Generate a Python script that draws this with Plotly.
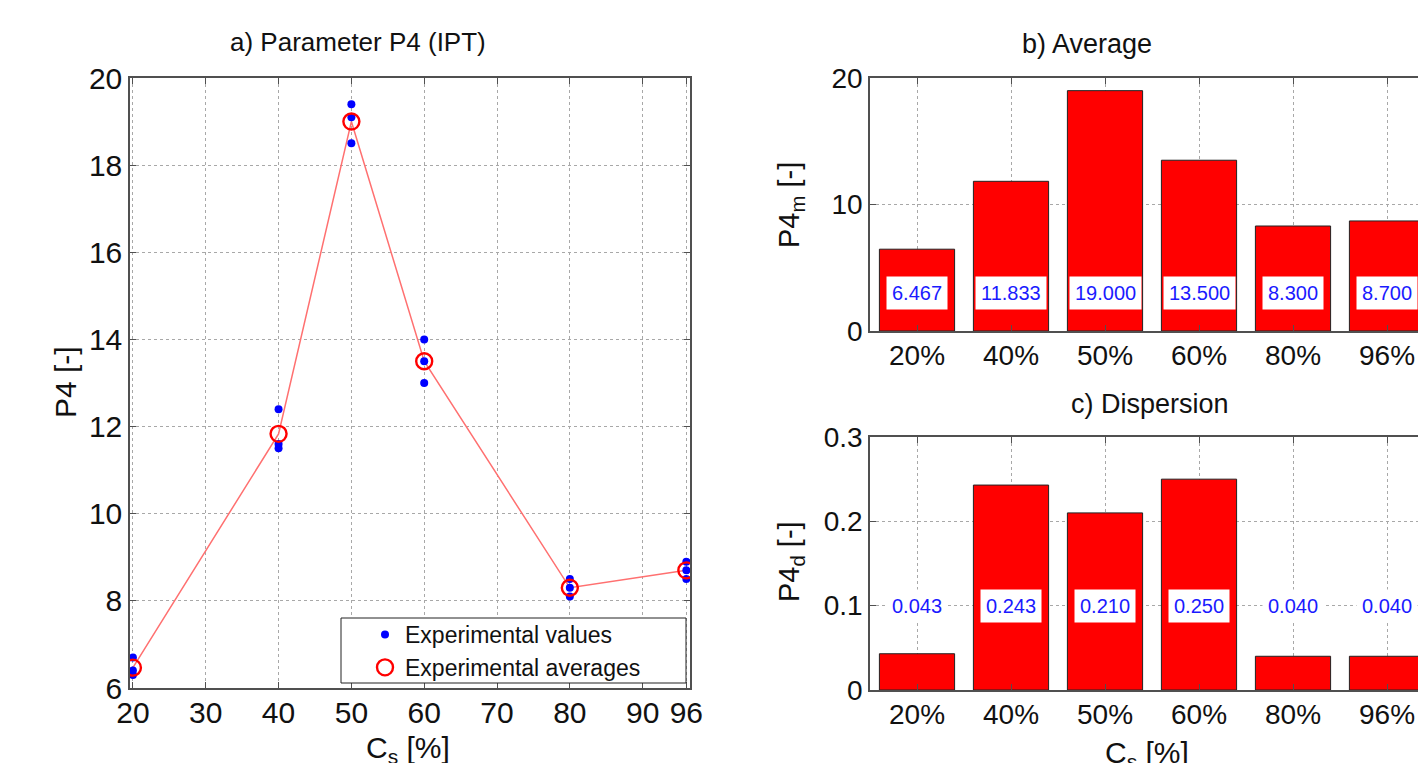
import plotly.graph_objects as go

# ---------------- data ----------------
conc = [20, 40, 50, 60, 80, 96]
exp_x = [20, 20, 20, 40, 40, 40, 50, 50, 50, 60, 60, 60, 80, 80, 80, 96, 96, 96]
exp_vals = [6.7, 6.4, 6.3, 12.4, 11.6, 11.5, 19.4, 19.1, 18.5, 14.0, 13.5, 13.0,
            8.5, 8.3, 8.1, 8.9, 8.7, 8.5]
averages = [6.467, 11.833, 19.000, 13.500, 8.300, 8.700]
dispersion = [0.043, 0.243, 0.210, 0.250, 0.040, 0.040]
categories = ["20%", "40%", "50%", "60%", "80%", "96%"]
x_ticks_a = [20, 30, 40, 50, 60, 70, 80, 90, 96]

W, H = 1426, 763
FONT = "Liberation Sans, Arial, sans-serif"

def px(x):
    return x / W

def py(y):
    return 1 - y / H

fig = go.Figure()

# ---------- a) Parameter P4 ----------
fig.add_trace(go.Scatter(x=conc, y=averages, mode="lines",
                         line=dict(color="#ff7070", width=1.5),
                         showlegend=False, xaxis="x", yaxis="y", hoverinfo="skip"))
fig.add_trace(go.Scatter(x=exp_x, y=exp_vals, mode="markers",
                         marker=dict(color="#0000ff", size=8),
                         name="Experimental values", xaxis="x", yaxis="y"))
fig.add_trace(go.Scatter(x=conc, y=averages, mode="markers",
                         marker=dict(symbol="circle-open", color="#ff0000", size=16,
                                     line=dict(width=2.4, color="#ff0000")),
                         name="Experimental averages", xaxis="x", yaxis="y"))

# ---------- b) Average ----------
fig.add_trace(go.Bar(x=categories, y=averages, width=0.8,
                     marker=dict(color="#ff0000", line=dict(color="#222222", width=1)),
                     showlegend=False, xaxis="x2", yaxis="y2"))
# ---------- c) Dispersion ----------
fig.add_trace(go.Bar(x=categories, y=dispersion, width=0.8,
                     marker=dict(color="#ff0000", line=dict(color="#222222", width=1)),
                     showlegend=False, xaxis="x3", yaxis="y3"))

def axis_style(size, standoff):
    return dict(
        automargin=False,
        showline=True, linecolor="#505050", linewidth=1.5, mirror="ticks",
        ticks="inside", ticklen=6, tickcolor="#505050",
        showgrid=True, gridcolor="#a8a8a8", griddash="dot", gridwidth=1,
        zeroline=False, tickfont=dict(family=FONT, size=size, color="#111111"),
        ticklabelstandoff=standoff,
    )

annotations = []
# value labels for bars
for c, v in zip(categories, averages):
    annotations.append(dict(x=c, y=3, xref="x2", yref="y2", text=f"{v:.3f}",
                            showarrow=False, bgcolor="white", borderpad=5,
                            font=dict(family=FONT, size=20, color="#1a1aff")))
for c, v in zip(categories, dispersion):
    annotations.append(dict(x=c, y=0.1, xref="x3", yref="y3", text=f"{v:.3f}",
                            showarrow=False, bgcolor="white", borderpad=5,
                            font=dict(family=FONT, size=20, color="#1a1aff")))

def txt(x, y, text, size, angle=0):
    return dict(x=px(x), y=py(y), xref="paper", yref="paper", text=text,
                showarrow=False, textangle=angle, xanchor="center", yanchor="middle",
                font=dict(family=FONT, size=size, color="#111111"))

annotations += [
    txt(350, 34, "a) Parameter P4 (IPT)", 26),
    txt(1079, 36, "b) Average", 27),
    txt(1142, 396, "c) Dispersion", 27),
    txt(57, 374, "P4 [-]", 30, -90),
    txt(783, 197, "P4<sub>m</sub> [-]", 29, -90),
    txt(783, 554, "P4<sub>d</sub> [-]", 29, -90),
    txt(400, 741, "C<sub>s</sub> [%]", 30),
    txt(1139, 746, "C<sub>s</sub> [%]", 30),
]

fig.update_layout(
    template="none",
    width=W, height=H, autosize=False,
    margin=dict(l=0, r=0, t=0, b=0, pad=0),
    paper_bgcolor="white", plot_bgcolor="white",
    font=dict(family=FONT, color="#111111"),
    xaxis=dict(domain=[px(122), px(682)], range=[19.6, 96.5], tickvals=x_ticks_a,
               anchor="y", **axis_style(30, -3)),
    yaxis=dict(domain=[py(680), py(70)], range=[6, 20], dtick=2,
               anchor="x", **axis_style(30, 0)),
    xaxis2=dict(domain=[px(862), 1.0], range=[-0.5, 5.5], type="category",
                categoryorder="array", categoryarray=categories,
                anchor="y2", **axis_style(28, -1)),
    yaxis2=dict(domain=[py(323), py(70)], range=[0, 20], tickvals=[0, 10, 20],
                anchor="x2", **axis_style(28, 0)),
    xaxis3=dict(domain=[px(862), 1.0], range=[-0.5, 5.5], type="category",
                categoryorder="array", categoryarray=categories,
                anchor="y3", **axis_style(28, -1)),
    yaxis3=dict(domain=[py(682), py(429)], range=[0, 0.3],
                tickvals=[0, 0.1, 0.2, 0.3], ticktext=["0", "0.1", "0.2", "0.3"],
                anchor="x3", **axis_style(28, 0)),
    legend=dict(x=px(357), y=py(605), xanchor="left", yanchor="top",
                bgcolor="rgba(0,0,0,0)", borderwidth=0,
                font=dict(family=FONT, size=23, color="#111111"),
                itemwidth=30, tracegroupgap=0),
    shapes=[dict(type="rect", xref="paper", yref="paper",
                 x0=px(333), x1=px(678), y0=py(675), y1=py(610),
                 fillcolor="white", line=dict(color="#222222", width=1), layer="above")],
    annotations=annotations,
    bargap=0.2,
)

fig.write_html("out.html")
